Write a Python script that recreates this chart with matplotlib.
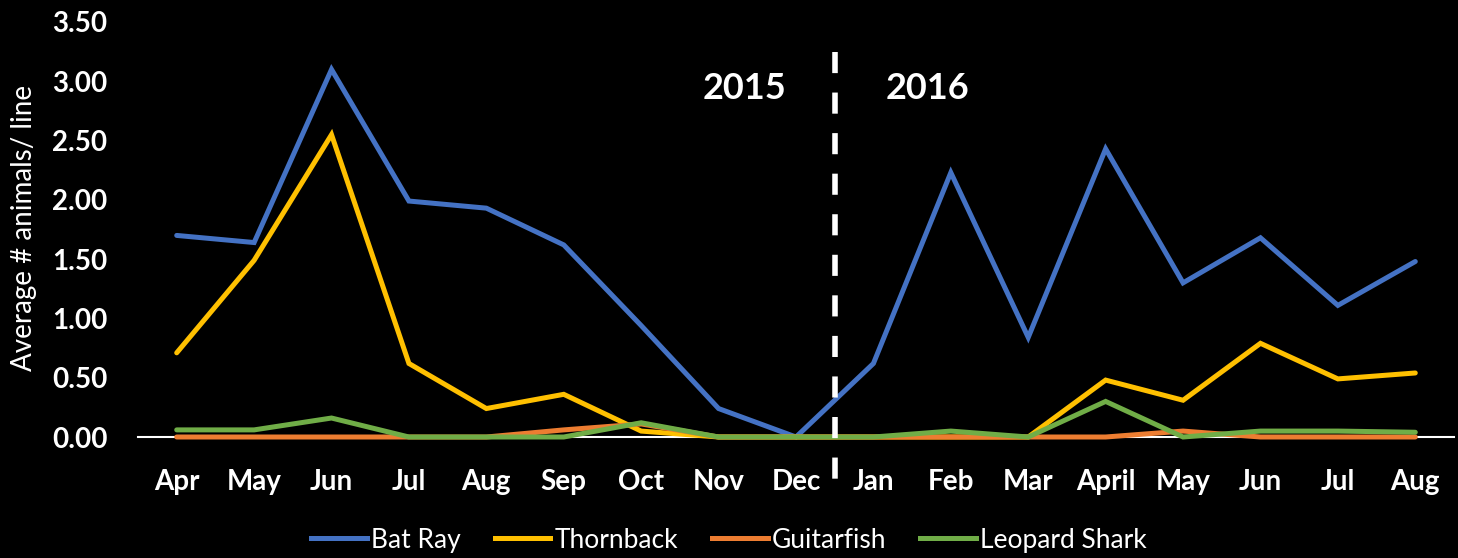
import matplotlib
matplotlib.use("Agg")
import matplotlib.pyplot as plt
from matplotlib.lines import Line2D

months = ["Apr", "May", "Jun", "Jul", "Aug", "Sep", "Oct", "Nov", "Dec",
          "Jan", "Feb", "Mar", "April", "May", "Jun", "Jul", "Aug"]
bat_ray = [1.70, 1.64, 3.10, 1.99, 1.93, 1.62, 0.94, 0.24, 0.00,
           0.62, 2.23, 0.84, 2.43, 1.30, 1.68, 1.11, 1.48]
thornback = [0.71, 1.49, 2.55, 0.62, 0.24, 0.36, 0.05, 0.00, 0.00,
             0.00, 0.00, 0.00, 0.48, 0.31, 0.79, 0.49, 0.54]
guitarfish = [0.00, 0.00, 0.00, 0.00, 0.00, 0.06, 0.11, 0.00, 0.00,
              0.00, 0.00, 0.00, 0.00, 0.05, 0.00, 0.00, 0.00]
leopard_shark = [0.06, 0.06, 0.16, 0.00, 0.00, 0.00, 0.12, 0.00, 0.00,
                 0.00, 0.05, 0.00, 0.30, 0.00, 0.05, 0.05, 0.04]
series_names = ["Bat Ray", "Thornback", "Guitarfish", "Leopard Shark"]
colors = ["#4472C4", "#FFC000", "#ED7D31", "#70AD47"]
years = ["2015", "2016"]
yticks = [0.0, 0.5, 1.0, 1.5, 2.0, 2.5, 3.0, 3.5]

plt.rcParams['font.family'] = ['Lato', 'DejaVu Sans']

fig = plt.figure(figsize=(14.58, 5.58), dpi=100, facecolor="black")
ax = fig.add_axes([138/1458, 1-437/558, 1316/1458, 415/558])
ax.set_facecolor("black")

x = list(range(len(months)))
for vals, name, c in zip([bat_ray, thornback, guitarfish, leopard_shark], series_names, colors):
    ax.plot(x, vals, color=c, lw=3.6, label=name, solid_capstyle="round",
            solid_joinstyle="miter", clip_on=False)

ax.set_xlim(-0.5, len(months) - 0.5)
ax.set_ylim(0, 3.5)
ax.set_yticks(yticks)
ax.set_yticklabels([f"{v:.2f}" for v in yticks])
ax.set_xticks(x)
ax.set_xticklabels(months)
for s in ["top", "right", "left"]:
    ax.spines[s].set_visible(False)
ax.spines["bottom"].set_color("white")
ax.spines["bottom"].set_linewidth(1.5)
ax.spines["bottom"].set_zorder(0.5)
ax.tick_params(axis="both", length=0, colors="white", labelsize=20)
ax.tick_params(axis="x", pad=23)
ax.tick_params(axis="y", pad=22)
for lab in ax.get_xticklabels() + ax.get_yticklabels():
    lab.set_fontweight("bold")

fig.text(24/1458, 1-228/558, "Average # animals/ line", rotation=90,
         ha="center", va="center", color="white", fontsize=20)

div = months.index("Jan") - 0.5
# drawn from the top downward so the dash pattern starts at the top end
ax.axvline(div, ymin=3.25/3.5, ymax=-0.45/3.5, color="white", lw=4,
           linestyle=(0, (3.8, 3.5)), clip_on=False)
ax.text(div - 1.16, 2.94, years[0], color="white", fontsize=26,
        fontweight="bold", ha="center", va="center")
ax.text(div + 1.2, 2.94, years[1], color="white", fontsize=26,
        fontweight="bold", ha="center", va="center")

handles = [Line2D([0], [0], color=c, lw=3.6) for c in colors]
leg = fig.legend(handles, series_names, loc="center", bbox_to_anchor=(0.5, 0.032),
                 ncol=4, frameon=False, fontsize=19, handlelength=2.1,
                 handletextpad=0.15, columnspacing=1.3, labelcolor="white")

fig.savefig("out.png", dpi=100, facecolor="black")
